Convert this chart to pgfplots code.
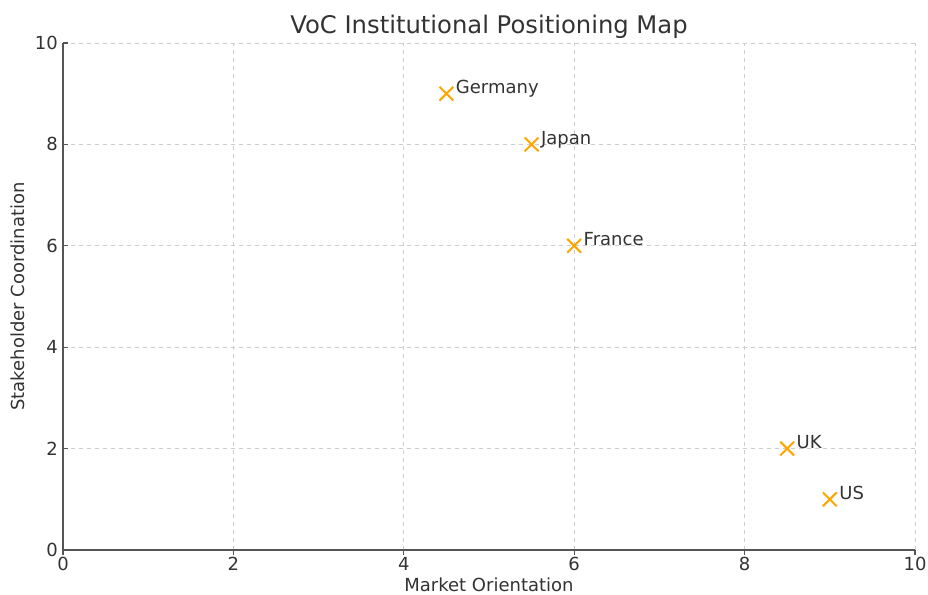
\documentclass[border=0pt]{standalone}
\usepackage{pgfplots}
\pgfplotsset{compat=1.18}
\usepackage{fontspec}
\setmainfont{DejaVu Sans}
\definecolor{txt}{HTML}{333333}
\definecolor{spine}{HTML}{555555}
\definecolor{gridc}{HTML}{CCCCCC}
\definecolor{mk}{HTML}{FFA500}
\begin{document}
\begin{tikzpicture}
\begin{axis}[
  at={(47.25pt,33.75pt)}, anchor=south west,
  scale only axis, width=639pt, height=380.25pt,
  xmin=0, xmax=10, ymin=0, ymax=10,
  xtick={0,2,...,10}, ytick={0,2,...,10},
  axis x line*=bottom, axis y line*=left,
  axis line style={spine, line width=1pt, -},
  xtick align=outside, ytick align=inside,
  major tick length=4pt,
  every tick/.style={spine, line width=0.8pt},
  grid=major,
  major grid style={gridc, dashed, line width=0.6pt},
  font=\fontsize{13.5pt}{16pt}\selectfont,
  /pgf/number format/assume math mode=true,
  ticklabel style={font=\fontsize{13.5pt}{16pt}\selectfont, text=txt},
  xticklabel style={anchor=north, inner sep=0pt, yshift=-1.5pt},
  yticklabel style={anchor=east, inner sep=0pt, xshift=-3.75pt},
  title={VoC Institutional Positioning Map},
  title style={at={(axis description cs:0.5,1.0158)}, anchor=center, font=\fontsize{18.2pt}{21pt}\selectfont, text=txt},
  xlabel={Market Orientation},
  ylabel={Stakeholder Coordination},
  xlabel style={at={(axis description cs:0.5,-0.069)}, anchor=center, inner sep=0pt, font=\fontsize{13.5pt}{16pt}\selectfont, text=txt},
  ylabel style={at={(axis description cs:-0.0528,0.5)}, anchor=center, rotate=0, font=\fontsize{13.5pt}{16pt}\selectfont, text=txt},
  clip=false,
]
\addplot[only marks, mark=x, mark size=7.3pt, mark options={mk, line width=1.5pt},
  point meta=explicit symbolic,
  nodes near coords,
  every node near coord/.style={anchor=base west, xshift=6.4pt, yshift=0pt, inner sep=0pt, text=txt, font=\fontsize{13.5pt}{16pt}\selectfont},
] table[meta=label] {
x y label
4.5 9 Germany
5.5 8 Japan
6 6 France
8.5 2 UK
9 1 US
};
\end{axis}
\pgfresetboundingbox
\path (0,0) rectangle (696pt,446.25pt);
\end{tikzpicture}
\end{document}
